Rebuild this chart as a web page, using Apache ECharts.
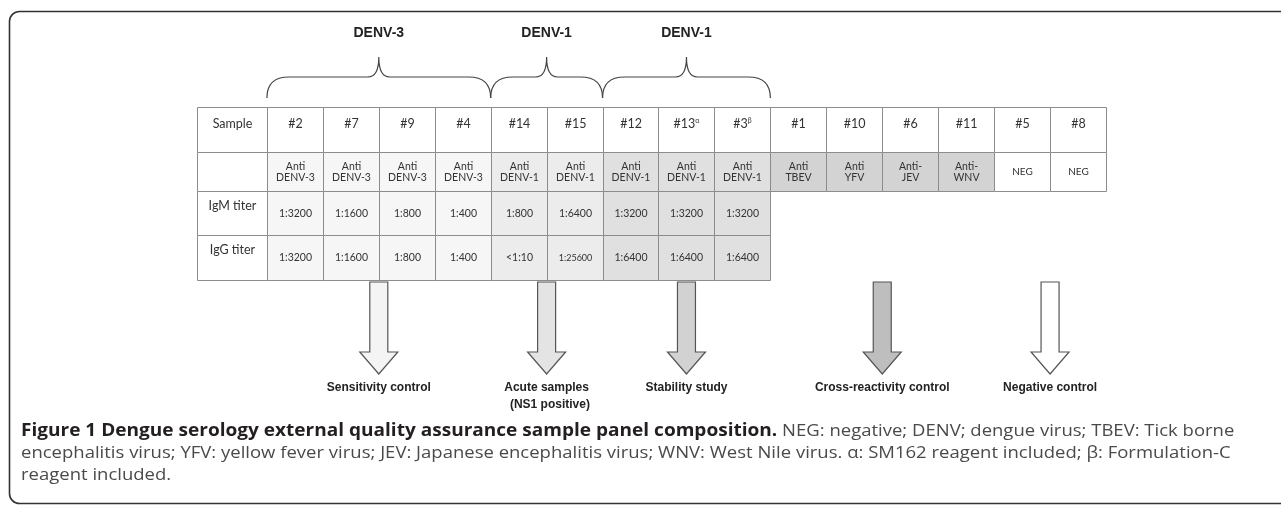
<!DOCTYPE html>
<html>
<head>
<meta charset="utf-8">
<script src="https://cdn.jsdelivr.net/npm/echarts@6/dist/echarts.min.js"></script>
<style>
    html, body { margin: 0; padding: 0; background: #fff; }
    #chart { width: 1281px; height: 506px; }
</style>
</head>
<body>
<div id="chart"></div>
<script>
// panel content
const samples = ['#2', '#7', '#9', '#4', '#14', '#15', '#12', '#13', '#3', '#1', '#10', '#6', '#11', '#5', '#8'];
const sampleMarks = ['', '', '', '', '', '', '', 'α', 'β', '', '', '', '', '', ''];
const antibodies = ['Anti\nDENV-3', 'Anti\nDENV-3', 'Anti\nDENV-3', 'Anti\nDENV-3', 'Anti\nDENV-1', 'Anti\nDENV-1',
    'Anti\nDENV-1', 'Anti\nDENV-1', 'Anti\nDENV-1', 'Anti\nTBEV', 'Anti\nYFV', 'Anti-\nJEV', 'Anti-\nWNV', 'NEG', 'NEG'];
const rowLabels = ['Sample', '', 'IgM titer', 'IgG titer'];
const igmTiter = ['1:3200', '1:1600', '1:800', '1:400', '1:800', '1:6400', '1:3200', '1:3200', '1:3200'];
const iggTiter = ['1:3200', '1:1600', '1:800', '1:400', '<1:10', '1:25600', '1:6400', '1:6400', '1:6400'];
const braceLabels = ['DENV-3', 'DENV-1', 'DENV-1'];
const braceSpans = [[0, 4], [4, 6], [6, 9]];
const useLabels = ['Sensitivity control', 'Acute samples\n  (NS1 positive)', 'Stability study', 'Cross-reactivity control', 'Negative control'];
const useSpans = [[0, 4], [4, 6], [6, 9], [9, 13], [13, 15]];
const captionLines = [
    '{b|Figure 1 Dengue serology external quality assurance sample panel composition.} NEG: negative; DENV; dengue virus; TBEV: Tick borne',
    'encephalitis virus; YFV: yellow fever virus; JEV: Japanese encephalitis virus; WNV: West Nile virus. α: SM162 reagent included; β: Formulation-C',
    'reagent included.'
];

// look
const cellShades = ['#f6f6f6', '#ececec', '#e0e0e0', '#d3d3d3', '#ffffff'];
const arrowShades = ['#f4f4f4', '#e4e4e4', '#d2d2d2', '#bebebe', '#ffffff'];
const rowEdges = [107, 152, 191, 235, 280];
const tableFont = 'Lato, "Noto Sans", sans-serif';
const boldFont = '"Liberation Sans", Arial, sans-serif';
const captionFont = '"Open Sans", "Noto Sans", sans-serif';

function groupOf(i) {
    return useSpans.findIndex(s => i >= s[0] && i < s[1]);
}

// cells: label column sits from -1.25 to 0 on the x axis
const cells = [];
rowLabels.forEach((t, r) => {
    cells.push({ x0: -1.25, x1: 0, row: r, fill: '#ffffff', text: t, label: true });
});
samples.forEach((s, i) => {
    const g = groupOf(i);
    const txt = sampleMarks[i] ? '{n|' + s + '}{s|' + sampleMarks[i] + '}' : '{n|' + s + '}';
    cells.push({ x0: i, x1: i + 1, row: 0, fill: '#ffffff', text: txt, rich: true });
    cells.push({ x0: i, x1: i + 1, row: 1, fill: cellShades[g], text: antibodies[i] });
});
igmTiter.forEach((t, i) => {
    cells.push({ x0: i, x1: i + 1, row: 2, fill: cellShades[groupOf(i)], text: t });
});
iggTiter.forEach((t, i) => {
    cells.push({ x0: i, x1: i + 1, row: 3, fill: cellShades[groupOf(i)], text: t });
});

function renderCell(params, api) {
    const c = cells[params.dataIndex];
    const p0 = api.coord([api.value(0), rowEdges[c.row]]);
    const p1 = api.coord([api.value(1), rowEdges[c.row + 1]]);
    const x0 = Math.round(p0[0]) + 0.5, y0 = Math.round(p0[1]) + 0.5;
    const x1 = Math.round(p1[0]) + 0.5, y1 = Math.round(p1[1]) + 0.5;
    let ty = (y0 + y1) / 2;
    let size = 10.5;
    if (c.row === 0) { ty = y0 + 16; size = 12.5; }
    if (c.label) { size = 12.5; if (c.row >= 2) ty = y0 + 14; }
    if (c.text === '1:25600') size = 9;
    if (c.text === 'NEG') size = 10;
    const style = {
        text: c.text, x: (x0 + x1) / 2, y: ty,
        align: 'center', verticalAlign: 'middle',
        fontFamily: tableFont, fontSize: size, fill: '#333', lineHeight: size + 1
    };
    if (c.rich) {
        style.rich = {
            n: { fontFamily: tableFont, fontSize: 12.5, fill: '#333' },
            s: { fontFamily: tableFont, fontSize: 7, fill: '#333', verticalAlign: 'top' }
        };
    }
    return {
        type: 'group',
        children: [
            { type: 'rect', shape: { x: x0, y: y0, width: x1 - x0, height: y1 - y0 },
              style: { fill: c.fill, stroke: '#8c8c8c', lineWidth: 1 } },
            { type: 'text', style: style }
        ]
    };
}

function renderBrace(params, api) {
    const a = api.coord([api.value(0), 98]);
    const b = api.coord([api.value(1), 77]);
    const top = api.coord([0, 57])[1];
    const x0 = a[0], x1 = b[0], yb = a[1], ym = b[1], xm = (x0 + x1) / 2;
    const d = 'M' + x0 + ',' + yb +
        ' C' + x0 + ',' + (yb - 12) + ' ' + (x0 + 6) + ',' + ym + ' ' + (x0 + 22) + ',' + ym +
        ' L' + (xm - 11) + ',' + ym +
        ' C' + (xm - 4) + ',' + ym + ' ' + xm + ',' + (ym - 7) + ' ' + xm + ',' + top +
        ' C' + xm + ',' + (ym - 7) + ' ' + (xm + 4) + ',' + ym + ' ' + (xm + 11) + ',' + ym +
        ' L' + (x1 - 22) + ',' + ym +
        ' C' + (x1 - 6) + ',' + ym + ' ' + x1 + ',' + (yb - 12) + ' ' + x1 + ',' + yb;
    const ly = api.coord([0, 33])[1];
    return {
        type: 'group',
        children: [
            { type: 'path', shape: { pathData: d }, style: { fill: 'none', stroke: '#444', lineWidth: 1.2 } },
            { type: 'text', style: { text: braceLabels[params.dataIndex], x: xm, y: ly, align: 'center', verticalAlign: 'middle',
                fontFamily: boldFont, fontWeight: 'bold', fontSize: 14, fill: '#222' } }
        ]
    };
}

function renderArrow(params, api) {
    const i = params.dataIndex;
    const cx = (api.coord([api.value(0), 0])[0] + api.coord([api.value(1), 0])[0]) / 2;
    const yTop = api.coord([0, 282])[1], yHead = api.coord([0, 352])[1], yTip = api.coord([0, 374])[1];
    const ly = api.coord([0, 379])[1];
    const hw = 9, hh = 19;
    return {
        type: 'group',
        children: [
            { type: 'polygon', shape: { points: [
                [cx - hw, yTop], [cx + hw, yTop], [cx + hw, yHead], [cx + hh, yHead],
                [cx, yTip], [cx - hh, yHead], [cx - hw, yHead]] },
              style: { fill: arrowShades[i], stroke: '#555', lineWidth: 1.2 } },
            { type: 'text', style: { text: useLabels[i], x: cx, y: ly, align: 'center', verticalAlign: 'top',
                fontFamily: boldFont, fontWeight: 'bold', fontSize: 12, lineHeight: 17, fill: '#222' } }
        ]
    };
}

// caption lines, slightly widened like the printed figure
const captionGraphics = captionLines.map((t, k) => ({
    type: 'text', x: 21, y: 431 + k * 22, scaleX: 1.088,
    style: {
        x: 0, y: 0, verticalAlign: 'middle', text: t,
        fontFamily: captionFont, fontSize: 17, fill: '#4a4a4a',
        rich: { b: { fontFamily: captionFont, fontSize: 17.5, fontWeight: 'bold', fill: '#231f20' } }
    }
}));

const chart = echarts.init(document.getElementById('chart'));
chart.setOption({
    animation: false,
    grid: { left: 197, top: 0, width: 909, height: 400 },
    xAxis: { type: 'value', min: -1.25, max: 15, show: false },
    yAxis: { type: 'value', min: 0, max: 400, inverse: true, show: false },
    graphic: [
        { type: 'rect', shape: { x: 9.5, y: 11.5, width: 1300, height: 492, r: 10 },
          style: { fill: 'none', stroke: '#333', lineWidth: 1.6 }, z: -1 }
    ].concat(captionGraphics),
    series: [
        { type: 'custom', name: 'cells', renderItem: renderCell, data: cells.map(c => [c.x0, c.x1]) },
        { type: 'custom', name: 'braces', renderItem: renderBrace, data: braceSpans.map(s => [s[0], s[1]]) },
        { type: 'custom', name: 'arrows', renderItem: renderArrow, data: useSpans.map(s => [s[0], s[1]]) }
    ]
});
</script>
</body>
</html>
